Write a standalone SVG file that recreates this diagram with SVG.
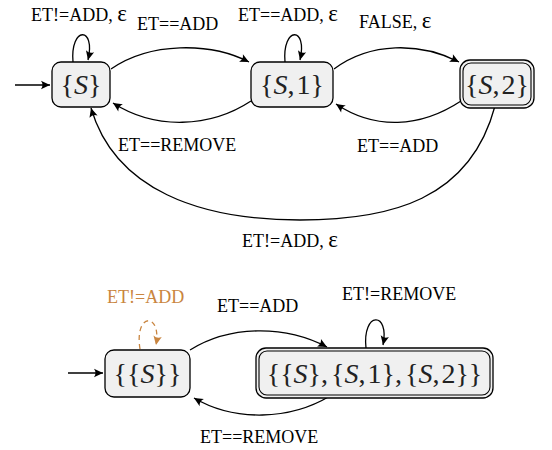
<svg xmlns="http://www.w3.org/2000/svg" width="552" height="450" viewBox="0 0 552 450">
<defs>
<marker id="arr" viewBox="-10 -5 12 10" refX="0" refY="0" markerWidth="12" markerHeight="10" markerUnits="userSpaceOnUse" orient="auto">
<path d="M0,0 L-9,-4.2 Q-6,0 -9,4.2 Z" fill="#000"/>
</marker>
<marker id="arro" viewBox="-10 -5 12 10" refX="0" refY="0" markerWidth="12" markerHeight="10" markerUnits="userSpaceOnUse" orient="auto">
<path d="M0,0 L-9,-4.2 Q-6,0 -9,4.2 Z" fill="#c98540"/>
</marker>
</defs>
<style>
.box{fill:#f0f0f0;stroke:#000;stroke-width:1.3}
.inner{fill:none;stroke:#000;stroke-width:1.1}
text{font-family:"Liberation Serif","Times New Roman","DejaVu Serif",serif}
.n{font-size:28px;fill:#222}
.i{font-style:italic}
.l{font-size:18px;fill:#000}
.e{font-size:23px}
.o{fill:#c98540}
.edge{fill:none;stroke:#000;stroke-width:1.3;marker-end:url(#arr)}
.dash{fill:none;stroke:#c98540;stroke-width:1.3;stroke-dasharray:5,4;marker-end:url(#arro)}
</style>
<rect width="552" height="450" fill="#fff"/>
<g id="connectors">
<path class="edge" d="M15,85 L50,85"/>
<path class="edge" d="M73,62 C70,26 96,26 88,60"/>
<path class="edge" d="M285,62 C282,26 308,26 300,60"/>
<path class="edge" d="M111,69 C150,42 210,42 249,62"/>
<path class="edge" d="M251,101 C210,128 155,130 113,103"/>
<path class="edge" d="M334,69 C370,42 420,42 459,62"/>
<path class="edge" d="M461,101 C420,128 375,130 336,104"/>
<path class="edge" d="M495,106 C470,200 390,220 300,220 C200,220 115,190 91,108"/>
<path class="edge" d="M68,373 L103,373"/>
<path class="dash" d="M140,349 C134,312 162,312 156,345"/>
<path class="edge" d="M366,348 C362,311 390,311 383,345"/>
<path class="edge" d="M190,350 C230,325 285,325 327,347"/>
<path class="edge" d="M330,396 C290,420 235,422 194,398"/>
</g>
<g id="labels">
<text class="l" x="31" y="21">ET!=ADD, <tspan class="e">ε</tspan></text>
<text class="l" x="137" y="30">ET==ADD</text>
<text class="l" x="238" y="21">ET==ADD, <tspan class="e">ε</tspan></text>
<text class="l" x="359" y="28">FALSE, <tspan class="e">ε</tspan></text>
<text class="l" x="118" y="151">ET==REMOVE</text>
<text class="l" x="357" y="152">ET==ADD</text>
<text class="l" x="242" y="247">ET!=ADD, <tspan class="e">ε</tspan></text>
<text class="l o" x="107" y="303">ET!=ADD</text>
<text class="l" x="217" y="312">ET==ADD</text>
<text class="l" x="342" y="300">ET!=REMOVE</text>
<text class="l" x="200" y="443">ET==REMOVE</text>
</g>
<g id="node-S">
<rect class="box" x="52" y="62" width="58" height="45" rx="9"/>
<text class="n" x="81" y="94" text-anchor="middle">{<tspan class="i">S</tspan>}</text>
</g>
<g id="node-S1">
<rect class="box" x="251" y="62" width="82" height="45" rx="9"/>
<text class="n" x="292" y="94" text-anchor="middle">{<tspan class="i">S</tspan>,<tspan dx="2">1</tspan>}</text>
</g>
<g id="node-S2">
<rect class="box" x="460" y="60" width="74" height="48" rx="10"/>
<rect class="inner" x="463" y="63" width="68" height="42" rx="8"/>
<text class="n" x="497" y="94" text-anchor="middle">{<tspan class="i">S</tspan>,<tspan dx="2">2</tspan>}</text>
</g>
<g id="node-SS">
<rect class="box" x="105" y="350" width="85" height="47" rx="9"/>
<text class="n" x="147.5" y="383" text-anchor="middle">{{<tspan class="i">S</tspan>}}</text>
</g>
<g id="node-all">
<rect class="box" x="256" y="348" width="237" height="50" rx="10"/>
<rect class="inner" x="259" y="351" width="231" height="44" rx="8"/>
<text class="n" x="374.5" y="383" text-anchor="middle">{{<tspan class="i">S</tspan>},<tspan dx="3">{</tspan><tspan class="i">S</tspan>,<tspan dx="2">1},</tspan><tspan dx="3">{</tspan><tspan class="i">S</tspan>,<tspan dx="2">2}}</tspan></text>
</g>
</svg>
